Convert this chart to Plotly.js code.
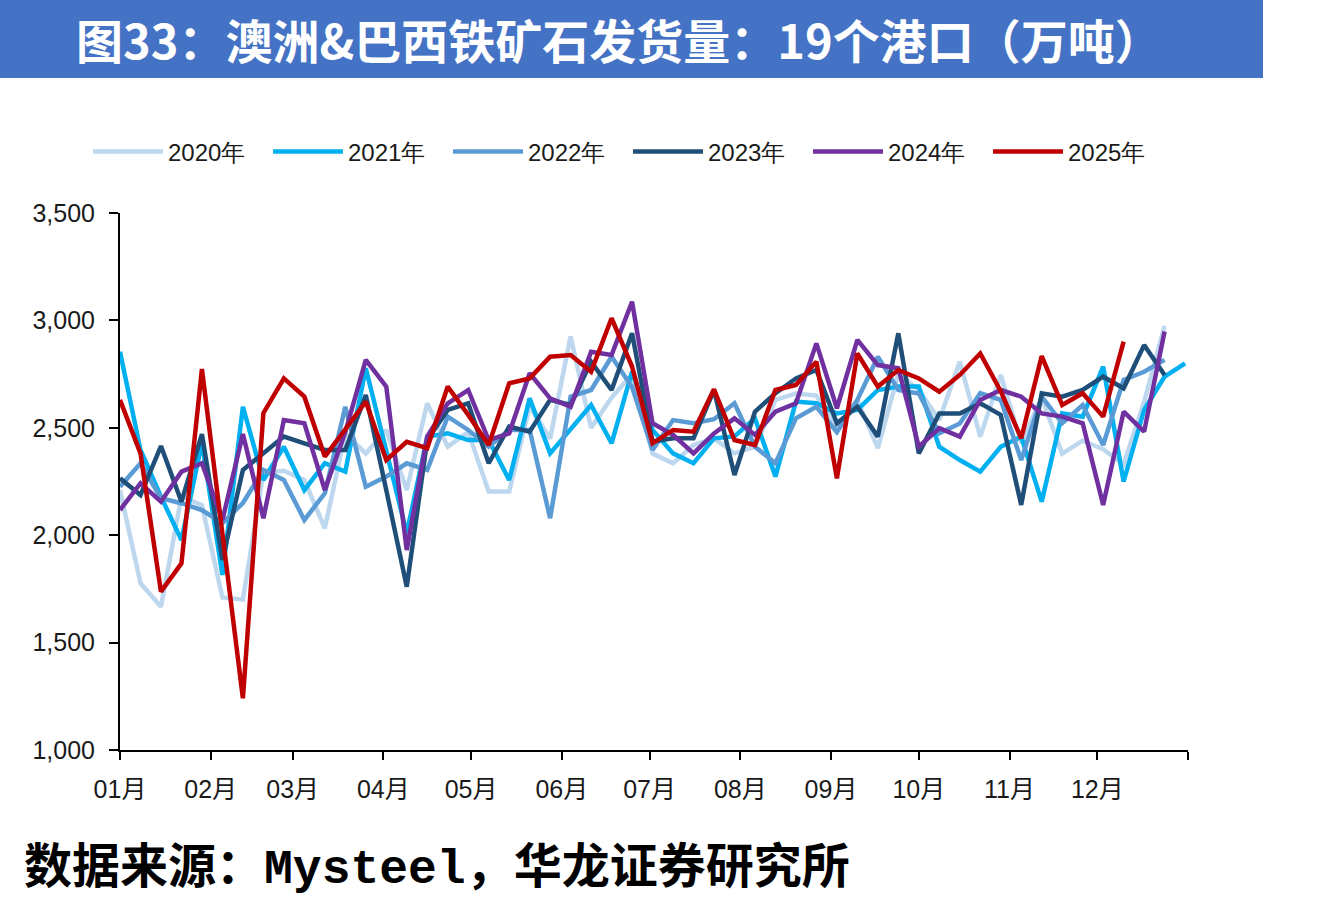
<!DOCTYPE html>
<html><head><meta charset="utf-8">
<script src="https://cdn.plot.ly/plotly-3.0.1.min.js"></script>
<style>html,body{margin:0;padding:0;background:#fff;}#chart{width:1321px;height:900px;}</style>
</head><body><div id="chart"></div>
<script>
const years = ['2020年','2021年','2022年','2023年','2024年','2025年'];
const monthLabels = ['01月','02月','03月','04月','05月','06月','07月','08月','09月','10月','11月','12月'];
const monthStartDays = [0,31,59,90,120,151,181,212,243,273,304,334];

const v2020 = [2210,1777,1667,2180,2140,1710,1700,2290,2300,2257,2032,2474,2381,2490,2210,2614,2412,2480,2203,2203,2600,2450,2925,2500,2640,2750,2380,2335,2420,2450,2381,2412,2630,2660,2650,2500,2630,2405,2750,2676,2536,2808,2459,2746,2430,2640,2380,2440,2400,2330,2620,2975];
const v2021 = [2854,2397,2179,1978,2430,1815,2598,2257,2412,2210,2335,2296,2777,2397,2009,2459,2474,2443,2443,2257,2637,2381,2490,2606,2428,2761,2490,2381,2335,2451,2460,2544,2273,2622,2614,2567,2583,2676,2692,2692,2412,2350,2296,2412,2459,2156,2567,2552,2785,2250,2583,2738,2800];
const v2022 = [2226,2335,2172,2149,2117,2056,2150,2304,2257,2071,2195,2598,2226,2273,2335,2304,2552,2490,2412,2490,2490,2079,2645,2676,2831,2690,2397,2536,2521,2540,2614,2412,2335,2544,2598,2480,2630,2831,2676,2660,2474,2520,2661,2630,2350,2645,2521,2606,2420,2723,2761,2816];
const v2023 = [2265,2187,2415,2156,2471,1885,2304,2381,2459,2428,2397,2397,2653,2210,1760,2443,2583,2614,2335,2506,2482,2630,2606,2808,2676,2940,2436,2451,2451,2676,2280,2575,2661,2730,2769,2521,2598,2459,2940,2381,2567,2567,2614,2560,2141,2661,2645,2676,2738,2684,2885,2746];
const v2024 = [2117,2242,2156,2296,2335,2071,2471,2079,2536,2521,2210,2480,2816,2692,1931,2459,2614,2676,2443,2474,2754,2637,2598,2854,2839,3087,2521,2467,2381,2474,2544,2467,2575,2614,2893,2591,2909,2792,2777,2412,2498,2459,2630,2676,2645,2567,2552,2521,2141,2575,2482,2948];
const v2025 = [2630,2381,1737,1869,2774,2007,1241,2568,2730,2645,2366,2493,2622,2350,2435,2405,2692,2560,2420,2707,2730,2831,2839,2761,3010,2785,2428,2490,2482,2679,2443,2420,2676,2699,2808,2265,2846,2692,2769,2730,2668,2746,2846,2670,2451,2834,2606,2661,2552,2901];

const seriesValues = [v2020,v2021,v2022,v2023,v2024,v2025];
const colors = ['#BDD7EE','#00B0F0','#5B9BD5','#1F4E79','#7030A0','#C00000'];

const traces = seriesValues.map((vals,k)=>({
  type:'scatter', mode:'lines', name: years[k],
  x: vals.map((_,i)=>i*7), y: vals,
  line:{color:colors[k], width:4.5}
}));

// plot area pixel geometry
const L=120, R=1188, T=213, B=750, W=1321, H=900;
const px = x => (x-L)/(R-L);
const py = y => (B-y)/(B-T);

const layout = {
  width:W, height:H,
  margin:{l:L, r:W-R, t:T, b:H-B, pad:0},
  paper_bgcolor:'#fff', plot_bgcolor:'#fff',
  font:{family:'"Liberation Sans", Arial, sans-serif', size:24, color:'#262626'},
  showlegend:true,
  legend:{orientation:'h', x:px(88), y:py(152), xanchor:'left', yanchor:'middle',
    font:{size:24, color:'#1a1a1a', family:'"Liberation Sans", Arial, sans-serif'},
    entrywidth:95, entrywidthmode:'pixels', itemwidth:70, tracegroupgap:0, bgcolor:'rgba(0,0,0,0)'},
  xaxis:{range:[0,365], tickmode:'array', tickvals:monthStartDays.concat([365]), ticktext:monthLabels.concat(['']),
    showgrid:false, zeroline:false, showline:true, linecolor:'#000', linewidth:2,
    ticks:'outside', ticklen:8, tickwidth:2, tickcolor:'#000', ticklabelstandoff:8,
    tickfont:{size:25, family:'"Liberation Sans", "Noto Sans CJK SC", sans-serif', color:'#1a1a1a'}, fixedrange:true},
  yaxis:{range:[1000,3500], tickmode:'array', tickvals:[1000,1500,2000,2500,3000,3500],
    tickformat:',d', showgrid:false, zeroline:false, showline:true, linecolor:'#000', linewidth:2,
    ticks:'outside', ticklen:9, tickwidth:2, tickcolor:'#000', ticklabelstandoff:9,
    tickfont:{size:25, family:'"Liberation Sans", Arial, sans-serif', color:'#1a1a1a'}, fixedrange:true},
  shapes:[
    {type:'rect', xref:'paper', yref:'paper', x0:px(0), x1:px(1263), y0:py(78), y1:py(0),
     fillcolor:'#4472C4', line:{width:0}, layer:'below'}
  ],
  annotations:[
    {xref:'paper', yref:'paper', x:px(619), y:py(2), xanchor:'center', yanchor:'top', showarrow:false,
     text:'<b>图33：澳洲&amp;巴西铁矿石发货量：19个港口（万吨）</b>',
     font:{size:47, color:'#ffffff', family:'"Noto Sans CJK SC", sans-serif'}},
    {xref:'paper', yref:'paper', x:px(22), y:py(862), xanchor:'left', yanchor:'middle', showarrow:false,
     text:'<b>数据来源：<span style="font-family:\'Liberation Mono\', monospace">Mysteel</span>，华龙证券研究所</b>',
     font:{size:48, color:'#000000', family:'"Noto Sans CJK SC", sans-serif'}}
  ]
};

Plotly.newPlot('chart', traces, layout, {displayModeBar:false, staticPlot:true});
</script>
</body></html>
